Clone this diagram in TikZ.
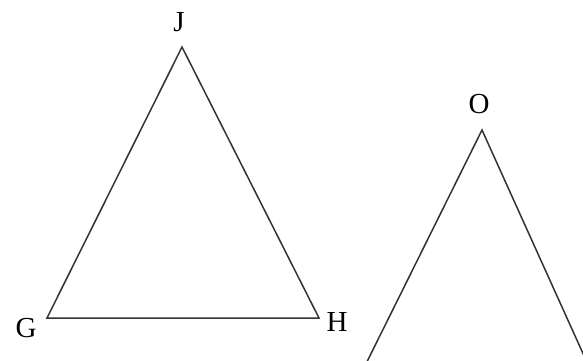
\documentclass[tikz,border=0pt]{standalone}
\usepackage{fontspec}
\setmainfont{Liberation Serif}
\begin{document}
\begin{tikzpicture}[x=1pt, y=-1pt, every node/.style={font=\fontsize{29}{32}\selectfont, inner sep=0pt}]
  \useasboundingbox (0, 0) rectangle (583, 361);
  \clip (0, 0) rectangle (583, 361);
  \tikzset{side/.style={black!80, line width=1.5pt, line join=miter}}

  % First triangle G H J
  \coordinate (J) at (182, 47);
  \coordinate (G) at (47, 318);
  \coordinate (H) at (319, 318);
  \draw[side] (G) -- (H) -- (J) -- cycle;
  \node (lJ) at (179, 22) {J};
  \node (lG) at (26, 328) {G};
  \node (lH) at (337, 322) {H};

  % Second triangle, cut off at the bottom
  \coordinate (O) at (482, 130);
  \coordinate (OL) at (348, 400);
  \coordinate (OR) at (604, 400);
  \draw[side] (OL) -- (O) -- (OR);
  \node (lO) at (479, 104) {O};
\end{tikzpicture}
\end{document}
